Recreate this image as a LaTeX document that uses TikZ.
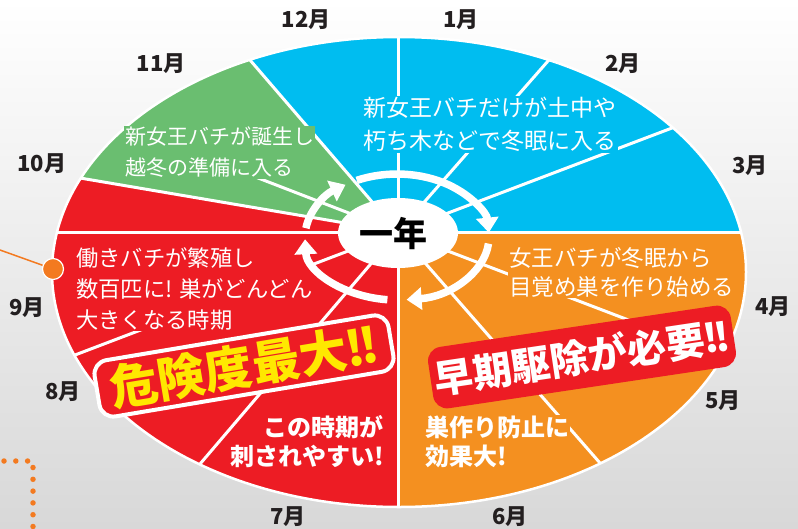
\documentclass[tikz,border=0pt]{standalone}
\usepackage{fontspec}
\newfontfamily\jp{Noto Sans CJK JP}
\usetikzlibrary{arrows.meta,shapes.geometric}
\definecolor{cblue}{RGB}{0,189,240}
\definecolor{cgreen}{RGB}{106,190,112}
\definecolor{cred}{RGB}{237,28,36}
\definecolor{corange}{RGB}{244,144,32}
\definecolor{cdot}{RGB}{243,122,32}
\definecolor{cyellow}{RGB}{255,232,0}
\definecolor{ctext}{RGB}{35,31,32}
\definecolor{bggray}{RGB}{216,216,216}
\newcommand{\bangs}{\kern-0.04em!\kern-0.1em!}
\tikzset{
  month/.style={font={\jp\bfseries\fontsize{22}{24}\selectfont}, text=ctext, inner sep=0pt},
  divline/.style={white, line width=3pt},
  ringarc/.style={white, line width=7.5pt, -{Triangle[width=22pt,length=15pt]}},
  desc/.style={text=white, inner sep=1pt, align=left},
  bigdesc/.style={text=white, inner sep=1pt, font={\jp\bfseries\fontsize{24}{29}\selectfont}},
  banner/.style={rounded corners=14pt, inner sep=0pt},
}
\begin{document}
\begin{tikzpicture}[x=1pt,y=-1pt]
\useasboundingbox (0,0) rectangle (798,528);
\shade[top color=white, bottom color=bggray] (0,0) rectangle (798,528);

% dotted orange guide
\draw[cdot, line width=5.5pt, line cap=round, dash pattern=on 0pt off 11.8pt] (4,461) -- (29,461);
\draw[cdot, line width=5.5pt, line cap=round, dash pattern=on 0pt off 11.8pt] (33,467.5) -- (33,540);

% big ellipse with month wedges
\begin{scope}
\clip (399,272) ellipse [x radius=347, y radius=235];
\fill[cred] (0,0) rectangle (798,528);
\fill[cblue] (398,232) -- (102,-112) -- (102,-400) -- (1100,-400) -- (1100,232) -- cycle;
\fill[cgreen] (398,232) -- (-238,124) -- (-238,-400) -- (102,-400) -- (102,-112) -- cycle;
\fill[corange] (398,232) -- (398,800) -- (1100,800) -- (1100,232) -- cycle;
\foreach \p in {(398,-200),(698,-110),(946,24),(1100,232),(1058,484),(802,694),(398,800),(2,696),(-248,478),(-300,232),(-238,124),(-146,22),(102,-112)}
  \draw[divline] (398,232) -- \p;
\end{scope}
\draw[white, line width=2.5pt] (399,272) ellipse [x radius=347, y radius=235];

% descriptions
\node[desc, fill=cgreen, font={\jp\fontsize{21}{31}\selectfont}, anchor=west] (t11) at (124,152.5) {新女王バチが誕生し\\越冬の準備に入る};
\node[desc, align=center, fill=cblue, font={\jp\fontsize{23}{33}\selectfont}] (t1) at (490,124.5) {新女王バチだけが土中や\\朽ち木などで冬眠に入る};
\node[desc, fill=corange, font={\jp\fontsize{22.5}{29}\selectfont}, anchor=west] (t4) at (508,272.5) {女王バチが冬眠から\\目覚め巣を作り始める};
\node[desc, fill=cred, font={\jp\fontsize{22.3}{31}\selectfont}, anchor=west] (t9) at (75,289) {働きバチが繁殖し\\数百匹に! 巣がどんどん\\大きくなる時期};
\node[bigdesc, align=right, anchor=east] (t7) at (385,441.5) {この時期が\\刺されやすい!};
\node[bigdesc, align=left, fill=corange, anchor=west] (t5) at (424,441.5) {巣作り防止に\\効果大!};

% cycle ring
\draw[ringarc] (305.9,228.2) arc[start angle=-172, end angle=-124, x radius=92, y radius=63];
\draw[ringarc] (356.7,180.4) arc[start angle=-116, end angle=-4, x radius=92, y radius=63];
\draw[ringarc] (488.5,243.6) arc[start angle=6, end angle=84, x radius=92, y radius=63];
\draw[ringarc] (387.4,299.7) arc[start angle=96, end angle=178, x radius=92, y radius=63];
\node[ellipse, fill=white, minimum width=120pt, minimum height=70pt, inner sep=0pt] (yr) at (398,233) {};
\node[font={\jp\bfseries\fontsize{34}{34}\selectfont}, text=black, inner sep=0pt] (yrt) at (393,234) {一年};

% banners
\node[banner, fill=cred, draw=white, line width=4pt, minimum width=298pt, minimum height=57pt, rotate=9.5, text=cyellow, font={\jp\bfseries\fontsize{48}{48}\selectfont}] (b1) at (244,366) {危険度最大\bangs};
\node[banner, fill=cred, minimum width=306pt, minimum height=62pt, rotate=8.5, text=white, font={\jp\bfseries\fontsize{39}{39}\selectfont}] (b2) at (582,357) {早期駆除が必要\bangs};

% orange pointer
\coordinate (lstart) at (0,250);
\node[circle, fill=cdot, draw=white, line width=1.2pt, minimum size=21pt, inner sep=0pt] (dot) at (53,269) {};
\draw[cdot, line width=1.5pt] (lstart) -- (dot);

% month labels
\node[month] (m12) at (306,20) {12月};
\node[month] (m1) at (461,20) {1月};
\node[month] (m2) at (623,64) {2月};
\node[month] (m3) at (750,166) {3月};
\node[month] (m4) at (773,307) {4月};
\node[month] (m5) at (723,401) {5月};
\node[month] (m6) at (510,517) {6月};
\node[month] (m7) at (288,517) {7月};
\node[month] (m8) at (63,392) {8月};
\node[month] (m9) at (27,308) {9月};
\node[month] (m10) at (42,164) {10月};
\node[month] (m11) at (161,64) {11月};
\end{tikzpicture}
\end{document}
